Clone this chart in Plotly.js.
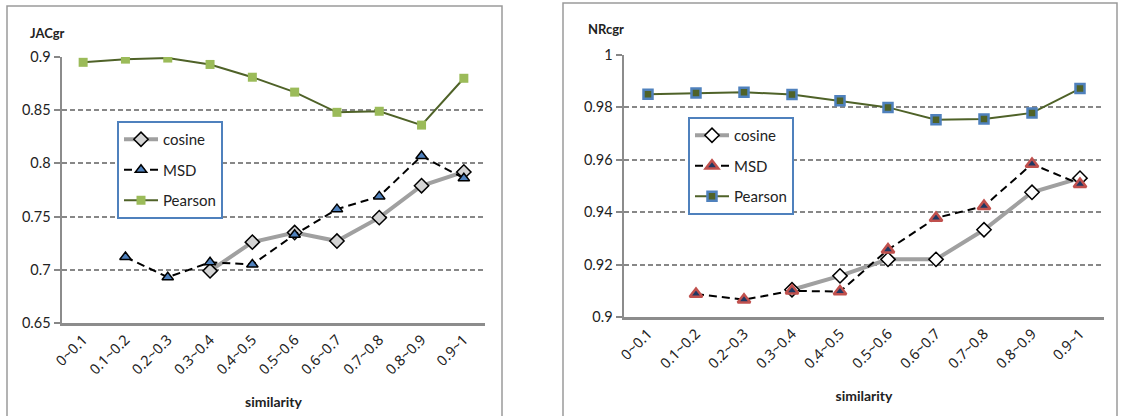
<!DOCTYPE html>
<html>
<head>
<meta charset="utf-8">
<script src="https://cdn.plot.ly/plotly-3.0.1.min.js"></script>
<style>
html,body{margin:0;padding:0;background:#fff;}
#chart{width:1122px;height:416px;}
</style>
</head>
<body>
<div id="chart"></div>
<script>
// ---- data ----
const categories = ['0~0.1','0.1~0.2','0.2~0.3','0.3~0.4','0.4~0.5','0.5~0.6','0.6~0.7','0.7~0.8','0.8~0.9','0.9~1'];

// left panel: JACgr
const jacCosine  = [null, null, null, 0.699, 0.726, 0.735, 0.727, 0.749, 0.779, 0.792];
const jacMSD     = [null, 0.712, 0.693, 0.707, 0.705, 0.733, 0.757, 0.769, 0.807, 0.786];
const jacPearson = [0.895, 0.898, 0.899, 0.893, 0.881, 0.867, 0.848, 0.849, 0.836, 0.880];

// right panel: NRcgr
const nrCosine  = [null, null, null, 0.9104, 0.9157, 0.9220, 0.9220, 0.9333, 0.9476, 0.9530];
const nrMSD     = [null, 0.9088, 0.9066, 0.9100, 0.9097, 0.9257, 0.9378, 0.9423, 0.9584, 0.9507];
const nrPearson = [0.9850, 0.9855, 0.9858, 0.9849, 0.9825, 0.9800, 0.9753, 0.9756, 0.9779, 0.9872];

const yTicksLeft  = [0.65, 0.7, 0.75, 0.8, 0.85, 0.9];
const yTickTextLeft = ['0.65','0.7','0.75','0.8','0.85','0.9'];
const yTicksRight = [0.9, 0.92, 0.94, 0.96, 0.98, 1];
const yTickTextRight = ['0.9','0.92','0.94','0.96','0.98','1'];

// ---- styles ----
const FONT = 'Lato, "Open Sans", "Liberation Sans", sans-serif';
const TICKFONT = '"Noto Sans", "Open Sans", sans-serif';
const GRID = '#878787';
const AXIS = '#8c8c8c';

const traces = [
  {x: categories, y: jacCosine, name: 'cosine', xaxis: 'x', yaxis: 'y', legend: 'legend', legendgroup: 'a',
   mode: 'lines+markers', line: {color: '#a0a0a0', width: 4},
   marker: {symbol: 'diamond', size: 11, color: '#d4d4d4', line: {color: '#000', width: 1.5}}},
  {x: categories, y: jacMSD, name: 'MSD', xaxis: 'x', yaxis: 'y', legend: 'legend', legendgroup: 'b',
   mode: 'lines+markers', line: {color: '#000', width: 2, dash: '8px,5px'},
   marker: {symbol: 'triangle-up', size: 10, color: '#4f81bd', line: {color: '#000', width: 1.5}}},
  {x: categories, y: jacPearson, name: 'Pearson', xaxis: 'x', yaxis: 'y', legend: 'legend', legendgroup: 'c',
   mode: 'lines+markers', line: {color: '#4f6228', width: 2},
   marker: {symbol: 'square', size: 9, color: '#9bbb59', line: {width: 0}}},

  {x: categories, y: nrCosine, name: 'cosine', xaxis: 'x2', yaxis: 'y2', legend: 'legend2', legendgroup: 'd',
   mode: 'lines+markers', line: {color: '#a0a0a0', width: 4},
   marker: {symbol: 'diamond', size: 11, color: '#ffffff', line: {color: '#000', width: 1.5}}},
  {x: categories, y: nrMSD, name: 'MSD', xaxis: 'x2', yaxis: 'y2', legend: 'legend2', legendgroup: 'e',
   mode: 'lines+markers', line: {color: '#000', width: 2, dash: '8px,5px'},
   marker: {symbol: 'triangle-up', size: 11, color: '#1f3864', line: {color: '#c0504d', width: 2.5}}},
  {x: categories, y: nrPearson, name: 'Pearson', xaxis: 'x2', yaxis: 'y2', legend: 'legend2', legendgroup: 'f',
   mode: 'lines+markers', line: {color: '#4f6228', width: 2},
   marker: {symbol: 'square', size: 9, color: '#4f6228', line: {color: '#4f81bd', width: 2.5}}}
];

function xAxis(domain, anchor, standoff) {
  return {
    domain: domain, anchor: anchor, type: 'category', range: [-0.5, 9.5],
    showline: true, linecolor: AXIS, linewidth: 2.5, mirror: false,
    showgrid: false, zeroline: false, ticks: '',
    tickangle: -45, tickfont: {family: TICKFONT, size: 14.5, color: '#222'},
    title: {text: '<b>similarity</b>', font: {family: FONT, size: 14, color: '#222'}, standoff: standoff},
    fixedrange: true
  };
}
function yAxis(domain, anchor, range, vals, text) {
  return {
    domain: domain, anchor: anchor, range: range,
    tickmode: 'array', tickvals: vals, ticktext: text,
    showline: true, linecolor: AXIS, linewidth: 2.5,
    showgrid: true, gridcolor: GRID, gridwidth: 2, griddash: '5px,3px',
    zeroline: false, ticks: 'outside', ticklen: 6, tickwidth: 2, tickcolor: GRID,
    tickfont: {family: FONT, size: 14.5, color: '#222'},
    fixedrange: true
  };
}

const layout = {
  width: 1122, height: 416,
  margin: {l: 0, r: 0, t: 0, b: 0},
  paper_bgcolor: '#ffffff', plot_bgcolor: 'rgba(0,0,0,0)',
  font: {family: FONT, color: '#222'},
  xaxis: xAxis([62/1122, 485/1122], 'y', 20),
  yaxis: yAxis([1 - 323/416, 1 - 57/416], 'x', [0.65, 0.9], yTicksLeft, yTickTextLeft),
  xaxis2: xAxis([624/1122, 1104/1122], 'y2', 20),
  yaxis2: yAxis([1 - 317/416, 1 - 55/416], 'x2', [0.9, 1.0], yTicksRight, yTickTextRight),
  legend: {
    x: 117/1122, y: 1 - 121/416, xanchor: 'left', yanchor: 'top',
    bgcolor: '#ffffff', bordercolor: '#4f81bd', borderwidth: 2,
    font: {family: FONT, size: 15, color: '#222'},
    traceorder: 'grouped', tracegroupgap: 8, itemwidth: 34
  },
  legend2: {
    x: 688/1122, y: 1 - 117/416, xanchor: 'left', yanchor: 'top',
    bgcolor: '#ffffff', bordercolor: '#4f81bd', borderwidth: 2,
    font: {family: FONT, size: 15, color: '#222'},
    traceorder: 'grouped', tracegroupgap: 8, itemwidth: 34
  },
  shapes: [
    {type: 'rect', xref: 'paper', yref: 'paper', x0: 7/1122, x1: 502/1122, y0: -0.02, y1: 1 - 6/416,
     line: {color: '#9a9a9a', width: 1.5}},
    {type: 'rect', xref: 'paper', yref: 'paper', x0: 563/1122, x1: 1117/1122, y0: -0.02, y1: 1 - 3/416,
     line: {color: '#9a9a9a', width: 1.5}}
  ],
  annotations: [
    {text: '<b>JACgr</b>', xref: 'paper', yref: 'paper', x: 28/1122, y: 1 - 33/416, xanchor: 'left', yanchor: 'middle',
     showarrow: false, font: {family: FONT, size: 13, color: '#222'}},
    {text: '<b>NRcgr</b>', xref: 'paper', yref: 'paper', x: 586/1122, y: 1 - 29/416, xanchor: 'left', yanchor: 'middle',
     showarrow: false, font: {family: FONT, size: 13, color: '#222'}}
  ],
  showlegend: true
};

Plotly.newPlot('chart', traces, layout, {displayModeBar: false, staticPlot: true});
</script>
</body>
</html>
